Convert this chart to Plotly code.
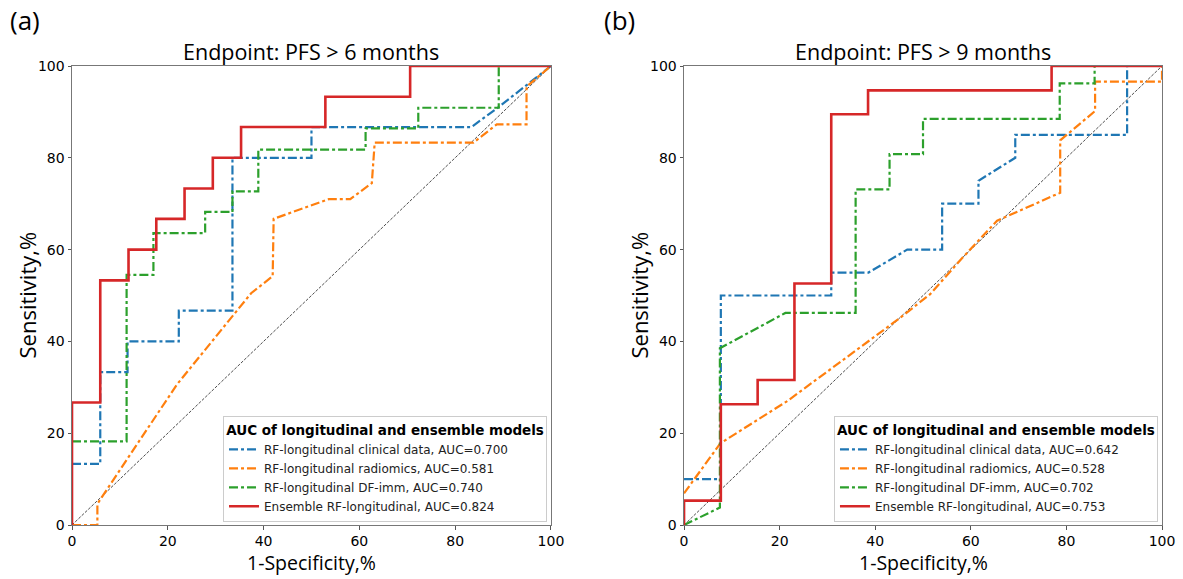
import plotly.graph_objects as go

# ---------------- data (values in %) ----------------
# Panel (a): Endpoint PFS > 6 months
a_clin_x = [0, 5.9, 5.9, 11.6, 11.6, 22.3, 22.3, 33.5, 33.5, 50.0, 50.0, 83.4, 89.0, 94.4, 100]
a_clin_y = [13.3, 13.3, 33.3, 33.3, 40.0, 40.0, 46.7, 46.7, 80.0, 80.0, 86.7, 86.7, 91.0, 95.5, 100]
a_rad_x = [0, 5.3, 5.3, 21.9, 37.4, 41.9, 42.1, 47.7, 53.6, 58.1, 62.6, 63.2, 83.8, 88.7, 94.9, 94.9, 100]
a_rad_y = [0, 0, 4.6, 30.6, 50.5, 54.2, 66.7, 68.8, 71.0, 71.0, 74.5, 83.3, 83.3, 87.3, 87.3, 95.5, 100]
a_df_x = [0, 11.4, 11.4, 17.0, 17.0, 27.8, 27.8, 33.5, 33.5, 38.9, 38.9, 61.3, 61.3, 72.3, 72.3, 89.1, 89.1, 100]
a_df_y = [18.2, 18.2, 54.5, 54.5, 63.6, 63.6, 68.2, 68.2, 72.7, 72.7, 81.8, 81.8, 86.4, 86.4, 90.9, 90.9, 100, 100]
a_ens_x = [0, 0, 5.9, 5.9, 11.8, 11.8, 17.6, 17.6, 23.5, 23.5, 29.4, 29.4, 35.3, 35.3, 52.9, 52.9, 70.6, 70.6, 100]
a_ens_y = [0, 26.7, 26.7, 53.3, 53.3, 60.0, 60.0, 66.7, 66.7, 73.3, 73.3, 80.0, 80.0, 86.7, 86.7, 93.3, 93.3, 100, 100]

# Panel (b): Endpoint PFS > 9 months
b_clin_x = [0, 7.7, 7.7, 30.8, 30.8, 38.6, 46.7, 54.0, 54.0, 61.6, 61.6, 69.3, 69.3, 92.7, 92.7, 100]
b_clin_y = [10.0, 10.0, 50.0, 50.0, 55.0, 55.0, 60.0, 60.0, 70.0, 70.0, 75.0, 80.0, 85.0, 85.0, 100, 100]
b_rad_x = [0, 7.6, 21.6, 45.3, 51.5, 58.5, 65.5, 78.7, 78.7, 86.0, 86.0, 100, 100]
b_rad_y = [6.9, 17.8, 27.0, 45.2, 50.3, 58.5, 66.3, 72.4, 83.8, 90.2, 96.6, 96.6, 100]
b_df_x = [0, 7.5, 7.5, 21.2, 35.9, 35.9, 43.0, 43.0, 50.0, 50.0, 78.6, 78.6, 85.9, 85.9, 100]
b_df_y = [0, 3.8, 38.5, 46.2, 46.2, 73.1, 73.1, 80.8, 80.8, 88.5, 88.5, 96.2, 96.2, 100, 100]
b_ens_x = [0, 0, 7.7, 7.7, 15.4, 15.4, 23.1, 23.1, 30.8, 30.8, 38.5, 38.5, 76.9, 76.9, 100]
b_ens_y = [0, 5.3, 5.3, 26.3, 26.3, 31.6, 31.6, 52.6, 52.6, 89.5, 89.5, 94.7, 94.7, 100, 100]

a_names = ["RF-longitudinal clinical data, AUC=0.700",
           "RF-longitudinal radiomics, AUC=0.581",
           "RF-longitudinal DF-imm, AUC=0.740",
           "Ensemble RF-longitudinal, AUC=0.824"]
b_names = ["RF-longitudinal clinical data, AUC=0.642",
           "RF-longitudinal radiomics, AUC=0.528",
           "RF-longitudinal DF-imm, AUC=0.702",
           "Ensemble RF-longitudinal, AUC=0.753"]
titles = ["Endpoint: PFS > 6 months", "Endpoint: PFS > 9 months"]
panel_labels = ["(a)", "(b)"]
x_title = "1-Specificity,%"
y_title = "Sensitivity,%"
legend_title = "AUC of longitudinal and ensemble models"
ticks = [0, 20, 40, 60, 80, 100]

colors = ["#1f77b4", "#ff7f0e", "#2ca02c", "#d62728"]
dashes = ["dashdot", "dashdot", "dashdot", "solid"]
widths = [2.2, 2.2, 2.2, 2.6]

fig = go.Figure()

panels = [
    ([a_clin_x, a_rad_x, a_df_x, a_ens_x], [a_clin_y, a_rad_y, a_df_y, a_ens_y], a_names, "x", "y", "legend"),
    ([b_clin_x, b_rad_x, b_df_x, b_ens_x], [b_clin_y, b_rad_y, b_df_y, b_ens_y], b_names, "x2", "y2", "legend2"),
]

for xs, ys, names, xa, ya, lg in panels:
    fig.add_trace(go.Scatter(x=[0, 100], y=[0, 100], mode="lines", xaxis=xa, yaxis=ya,
                             line=dict(color="black", width=0.7, dash="3px,1.5px"),
                             showlegend=False, hoverinfo="skip"))
    for i in range(4):
        fig.add_trace(go.Scatter(x=xs[i], y=ys[i], mode="lines", name=names[i],
                                 xaxis=xa, yaxis=ya, legend=lg,
                                 line=dict(color=colors[i], width=widths[i], dash=dashes[i])))

axis_common = dict(range=[0, 100], tickvals=ticks, ticks="outside", ticklen=3.5, tickcolor="#555",
                   showline=True, linecolor="#777", linewidth=1, mirror=True, showgrid=False,
                   zeroline=False, automargin=False,
                   tickfont=dict(family="DejaVu Sans", size=14, color="black"))

dom_a = [0, 0.4394]
dom_b = [0.5615, 1]
fig.update_layout(
    width=1183, height=579,
    margin=dict(l=72, r=21, t=66, b=54),
    paper_bgcolor="white", plot_bgcolor="white",
    xaxis=dict(domain=dom_a, anchor="y", **axis_common),
    yaxis=dict(domain=[0, 1], anchor="x", **axis_common),
    xaxis2=dict(domain=dom_b, anchor="y2", **axis_common),
    yaxis2=dict(domain=[0, 1], anchor="x2", **axis_common),
)

leg_common = dict(xref="paper", yref="paper", xanchor="right", yanchor="bottom",
                  bgcolor="rgba(255,255,255,0.85)", bordercolor="#ccc", borderwidth=1,
                  font=dict(family="DejaVu Sans", size=12, color="#222"),
                  title=dict(text="<b>" + legend_title + "</b>", side="top center",
                             font=dict(family="DejaVu Sans", size=13.5, color="black")),
                  itemwidth=30, tracegroupgap=0)
fig.update_layout(
    legend=dict(x=0.4358, y=0.006, **leg_common),
    legend2=dict(x=0.9963, y=0.006, **leg_common),
)

ax_font = dict(family="Open Sans", size=19.5, color="black")
annots = []
for i, dom in enumerate([dom_a, dom_b]):
    cx = (dom[0] + dom[1]) / 2
    annots.append(dict(text=titles[i], x=cx, y=1.0, xref="paper", yref="paper",
                       xanchor="center", yanchor="bottom", yshift=-2, showarrow=False,
                       font=dict(family="Open Sans", size=21.5, color="black")))
    annots.append(dict(text=x_title, x=cx, y=0, xref="paper", yref="paper",
                       xanchor="center", yanchor="bottom", yshift=-53, showarrow=False, font=ax_font))
    annots.append(dict(text=y_title, x=dom[0], y=0.5, xref="paper", yref="paper", textangle=-90,
                       xanchor="center", yanchor="middle", xshift=-46, showarrow=False,
                       font=dict(family="Open Sans", size=22, color="black")))
annots.append(dict(text=panel_labels[0], x=0, y=1, xref="paper", yref="paper", xanchor="left", yanchor="middle",
                   xshift=-64, yshift=46, showarrow=False, font=dict(family="Open Sans", size=26, color="black")))
annots.append(dict(text=panel_labels[1], x=dom_b[0], y=1, xref="paper", yref="paper", xanchor="left", yanchor="middle",
                   xshift=-82, yshift=46, showarrow=False, font=dict(family="Open Sans", size=26, color="black")))
fig.update_layout(annotations=annots)

fig.write_html("out.html")
